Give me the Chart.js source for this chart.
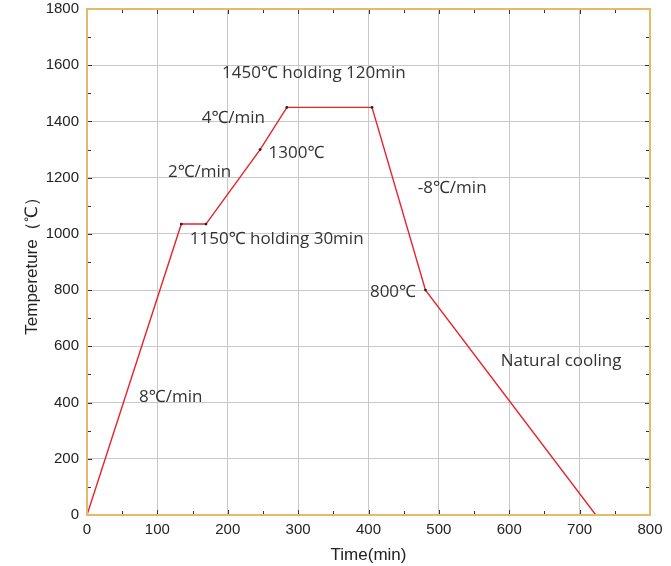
<!DOCTYPE html>
<html>
<head>
<meta charset="utf-8">
<script src="https://cdn.jsdelivr.net/npm/chart.js@4"></script>
<style>
  html, body { margin: 0; padding: 0; background: #fff; }
  #wrap { width: 671px; height: 566px; }
</style>
</head>
<body>
<div id="wrap"><canvas id="c" width="671" height="566"></canvas></div>
<script>
// process curve (time in min, temperature in C)
const times = [0, 134, 169, 246, 284, 405, 481, 723];
const temps = [0, 1035, 1035, 1300, 1450, 1450, 800, 0];
const markerIdx = [1, 2, 3, 4, 5, 6];

// annotation labels, placed in data units (left edge, vertical middle)
const labelText = ['1450℃ holding 120min', '4℃/min', '1300℃', '2℃/min', '1150℃ holding 30min', '-8℃/min', '800℃', 'Natural cooling', '8℃/min'];
const labelX = [192, 163, 258, 115, 146, 470, 402, 588, 74];
const labelY = [1572, 1412, 1288, 1220, 982, 1163, 793, 548, 420];

const xTicks = [0, 100, 200, 300, 400, 500, 600, 700, 800];
const yTicks = [0, 200, 400, 600, 800, 1000, 1200, 1400, 1600, 1800];

const borderColor = '#e5bb6a';

// minor ticks, border and text labels
const decor = {
    id: 'decor',
    afterDraw(chart) {
        const ctx = chart.ctx;
        const a = chart.chartArea;
        const xs = chart.scales.x, ys = chart.scales.y;
        ctx.save();
        ctx.strokeStyle = '#333';
        ctx.lineWidth = 1;
        for (let v = 0; v <= 800; v += 50) {
            const px = Math.round(xs.getPixelForValue(v)) + 0.5;
            const len = v % 100 === 0 ? 5 : 4;
            ctx.beginPath();
            ctx.moveTo(px, a.bottom); ctx.lineTo(px, a.bottom - len);
            ctx.moveTo(px, a.top); ctx.lineTo(px, a.top + len);
            ctx.stroke();
        }
        for (let v = 0; v <= 1800; v += 100) {
            const py = Math.round(ys.getPixelForValue(v)) + 0.5;
            const len = v % 200 === 0 ? 5 : 4;
            ctx.beginPath();
            ctx.moveTo(a.left, py); ctx.lineTo(a.left + len, py);
            ctx.moveTo(a.right, py); ctx.lineTo(a.right - len, py);
            ctx.stroke();
        }
        ctx.strokeStyle = borderColor;
        ctx.lineWidth = 2;
        ctx.strokeRect(a.left, a.top, a.right - a.left, a.bottom - a.top);

        ctx.fillStyle = '#333';
        ctx.font = '17px "Open Sans", "Noto Sans", sans-serif';
        ctx.textBaseline = 'middle';
        ctx.textAlign = 'left';
        labelText.forEach((t, i) => {
            ctx.fillText(t, xs.getPixelForValue(labelX[i]), ys.getPixelForValue(labelY[i]));
        });

        // vertex dots
        ctx.fillStyle = '#222';
        markerIdx.forEach(i => {
            ctx.beginPath();
            ctx.arc(xs.getPixelForValue(times[i]), ys.getPixelForValue(temps[i]), 1.4, 0, Math.PI * 2);
            ctx.fill();
        });
        ctx.restore();
    }
};

new Chart(document.getElementById('c'), {
    type: 'line',
    data: {
        datasets: [{
            data: times.map((t, i) => ({ x: t, y: temps[i] })),
            borderColor: '#e8212b',
            borderWidth: 1.4,
            pointRadius: 0,
            tension: 0,
            fill: false
        }]
    },
    options: {
        responsive: false,
        animation: false,
        devicePixelRatio: 1,
        layout: { padding: { top: 9, right: 21, left: 22, bottom: 0 } },
        plugins: {
            legend: { display: false },
            tooltip: { enabled: false }
        },
        scales: {
            x: {
                type: 'linear',
                min: 0, max: 800,
                afterBuildTicks: s => { s.ticks = xTicks.map(v => ({ value: v })); },
                afterFit: s => { s.height = 566 - 515; s.paddingRight = 0; s.paddingLeft = 0; },
                grid: { color: '#c9c9c9', lineWidth: 1, drawTicks: false },
                border: { display: false },
                ticks: { color: '#222', font: { family: 'Liberation Sans, Arial', size: 15 }, padding: 6, maxRotation: 0, callback: v => String(v) },
                title: { display: true, text: 'Time(min)', color: '#222', font: { family: 'Liberation Sans, Arial', size: 17 }, padding: { top: 0, bottom: 0 } }
            },
            y: {
                type: 'linear',
                min: 0, max: 1800,
                afterBuildTicks: s => { s.ticks = yTicks.map(v => ({ value: v })); },
                afterFit: s => { s.width = 65; s.paddingTop = 0; s.paddingBottom = 0; },
                grid: { color: '#c9c9c9', lineWidth: 1, drawTicks: false },
                border: { display: false },
                ticks: { color: '#222', font: { family: 'Liberation Sans, Arial', size: 15 }, padding: 8, callback: v => String(v) },
                title: { display: true, text: 'Tempereture（℃）', color: '#222', font: { family: 'Liberation Sans, Arial', size: 17 }, padding: { top: 0, bottom: 4 } }
            }
        }
    },
    plugins: [decor]
});
</script>
</body>
</html>
